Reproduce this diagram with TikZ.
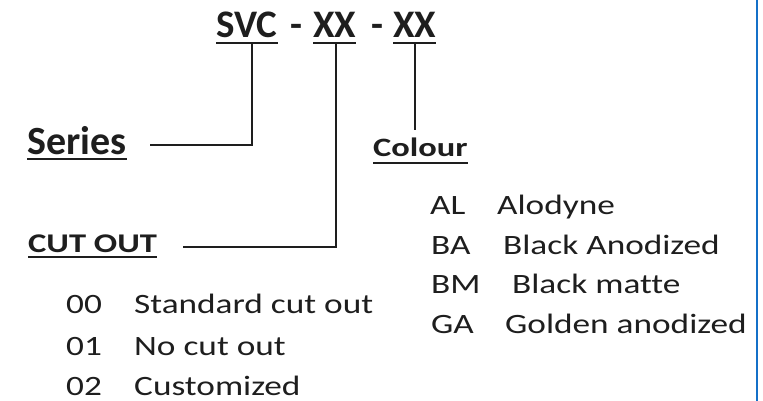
\documentclass[tikz,border=0pt]{standalone}
\usepackage{graphicx}
\usepackage{fontspec}
\setmainfont{Carlito}[Ligatures=NoCommon]
\definecolor{ink}{RGB}{30,30,30}
\definecolor{edgeblue}{RGB}{20,112,200}
\newcommand{\mystretch}[2]{\scalebox{#1}[1]{#2}}
\newcommand{\li}[1]{\mystretch{1.26}{#1}}
\begin{document}
\begin{tikzpicture}[x=1pt,y=-1pt,
  txt/.style={inner sep=0pt,anchor=base west,text=ink},
  title/.style={txt,font=\fontsize{39}{39}\selectfont\bfseries},
  item/.style={txt,text depth=0pt,font=\fontsize{28}{28}\selectfont},
  uline/.style={draw=ink,line width=2pt},
  conn/.style={draw=ink,line width=2pt}]
\useasboundingbox (0,0) rectangle (763,401);
\fill[white] (0,0) rectangle (763,401);
\draw[edgeblue,line width=2.2pt] (757,0) -- (757,401);
% title
\node[title] (svc) at (216,38) {SVC};
\node[title] (d1) at (290,38) {-};
\node[title] (xx1) at (313,38) {XX};
\node[title] (d2) at (371,38) {-};
\node[title] (xx2) at (393,38) {XX};
\draw[uline] ([yshift=-5pt]svc.base west) -- ([yshift=-5pt]svc.base east);
\draw[uline] ([yshift=-5pt]xx1.base west) -- ([yshift=-5pt]xx1.base east);
\draw[uline] ([yshift=-5pt]xx2.base west) -- ([yshift=-5pt]xx2.base east);
% headings
\node[txt,font=\fontsize{40}{40}\selectfont\bfseries] (series) at (27,154) {Series};
\node[txt,font=\fontsize{27}{27}\selectfont\bfseries] (cut) at (28,252) {\mystretch{1.28}{CUT OUT}};
\node[txt,font=\fontsize{26.5}{26.5}\selectfont\bfseries] (colour) at (373,157) {\mystretch{1.3}{Colour}};
\draw[uline] ([yshift=-5pt]series.base west) -- ([yshift=-5pt]series.base east);
\draw[uline] ([yshift=-5pt]cut.base west) -- ([yshift=-5pt]cut.base east);
\draw[uline] ([yshift=-6pt]colour.base west) -- ([yshift=-6pt]colour.base east);
% connectors
\coordinate (seriesend) at (150,145);
\coordinate (cutend) at (183,247);
\coordinate (colourend) at (415,130);
\draw[conn] (252,43) |- (seriesend);
\draw[conn] (336,43) |- (cutend);
\draw[conn] (415,43) -- (colourend);
% colour list
\node[item] (al) at (430,214) {\li{AL}};
\node[item] (ald) at (497,214) {\li{Alodyne}};
\node[item] (ba) at (431,254) {\li{BA}};
\node[item] (bad) at (503,254) {\li{Black Anodized}};
\node[item] (bm) at (431,293) {\li{BM}};
\node[item] (bmd) at (512,293) {\li{Black matte}};
\node[item] (ga) at (431,333) {\li{GA}};
\node[item] (gad) at (505,333) {\li{Golden anodized}};
% cut out list
\node[item] (c0) at (66,313) {\li{00}};
\node[item] (c0d) at (134,313) {\li{Standard cut out}};
\node[item] (c1) at (66,355) {\li{01}};
\node[item] (c1d) at (134,355) {\li{No cut out}};
\node[item] (c2) at (66,395) {\li{02}};
\node[item] (c2d) at (134,395) {\li{Customized}};
\end{tikzpicture}
\end{document}
